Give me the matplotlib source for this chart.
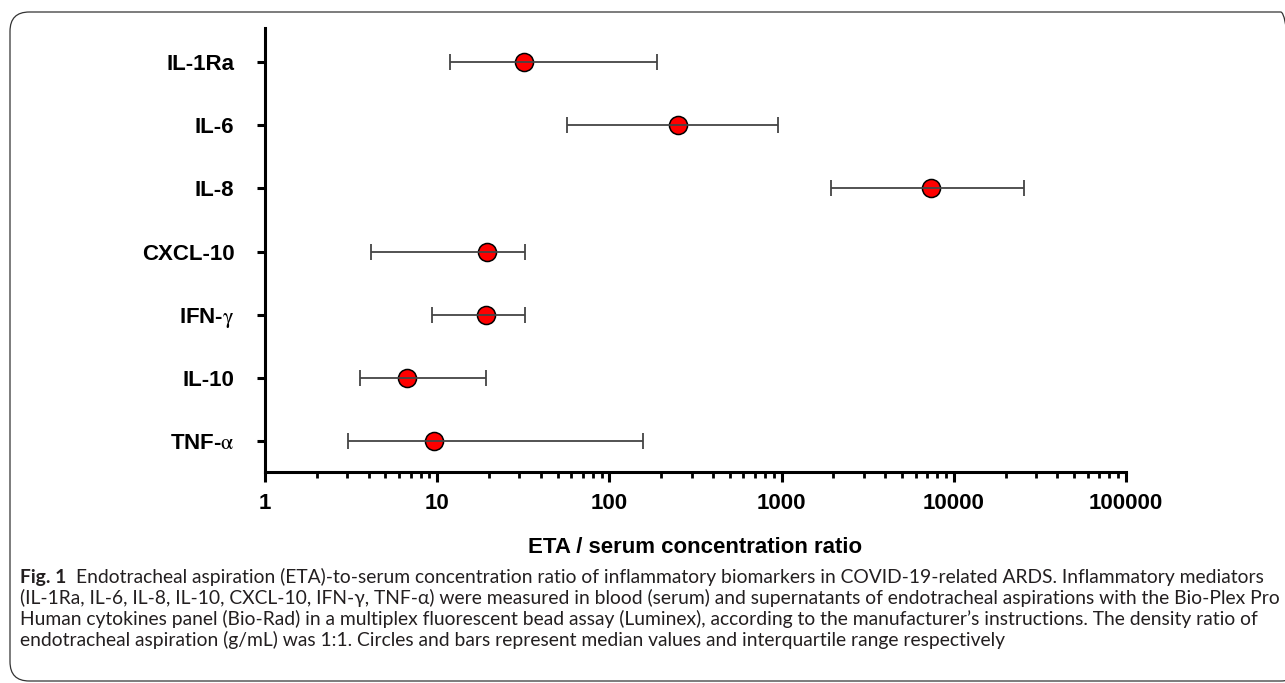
import matplotlib
matplotlib.use("Agg")
from matplotlib import pyplot as plt
from matplotlib.patches import FancyBboxPatch
from matplotlib.ticker import LogLocator, FixedFormatter, NullFormatter

# data (median, 25th pct, 75th pct)
markers = ['IL-1Ra', 'IL-6', 'IL-8', 'CXCL-10', r'IFN-$\mathrm{\gamma}$', 'IL-10', r'TNF-$\mathrm{\alpha}$']
medians = [31.9, 249, 7375, 19.5, 19.2, 6.7, 9.6]
q1 = [11.9, 56.9, 1936, 4.13, 9.33, 3.58, 3.02]
q3 = [190, 953, 25580, 32.4, 32.4, 19.2, 156]
xticks = [1, 10, 100, 1000, 10000, 100000]
xtick_labels = ['1', '10', '100', '1000', '10000', '100000']

caption_lines = [
    "Endotracheal aspiration (ETA)-to-serum concentration ratio of inflammatory biomarkers in COVID-19-related ARDS. Inflammatory mediators",
    "(IL-1Ra, IL-6, IL-8, IL-10, CXCL-10, IFN-\u03b3, TNF-\u03b1) were measured in blood (serum) and supernatants of endotracheal aspirations with the Bio-Plex Pro",
    "Human cytokines panel (Bio-Rad) in a multiplex fluorescent bead assay (Luminex), according to the manufacturer\u2019s instructions. The density ratio of",
    "endotracheal aspiration (g/mL) was 1:1. Circles and bars represent median values and interquartile range respectively",
]

plt.rcParams['font.family'] = ['Liberation Sans', 'DejaVu Sans']
plt.rcParams['mathtext.fontset'] = 'stix'

W, H = 1285, 683
fig = plt.figure(figsize=(W / 100, H / 100), dpi=100)
ax = fig.add_axes([265 / W, 1 - 472 / H, (1126 - 265) / W, (472 - 28) / H])

n = len(markers)
ypos = list(range(n - 1, -1, -1))
lo_err = [m - a for m, a in zip(medians, q1)]
hi_err = [b - m for m, b in zip(medians, q3)]

ax.plot(medians, ypos, 'o', ms=13, mfc='#ff0000', mec='black', mew=1.1, zorder=2)
ax.errorbar(medians, ypos, xerr=[lo_err, hi_err], fmt='none', ecolor='#444444',
            elinewidth=1.3, capsize=6, capthick=1.3, zorder=3)

ax.set_xscale('log')
ax.set_xlim(1, 100000)
ax.set_ylim(-0.49, n - 1 + 0.54)
ax.set_xticks(xticks)
ax.xaxis.set_major_formatter(FixedFormatter(xtick_labels))
ax.xaxis.set_minor_locator(LogLocator(base=10, subs=range(2, 10)))
ax.xaxis.set_minor_formatter(NullFormatter())
ax.set_yticks(ypos)
ax.set_yticklabels(markers, fontsize=16, fontweight='bold')
for lab in ax.get_xticklabels():
    lab.set_fontsize(16)
    lab.set_fontweight('bold')

for side in ['top', 'right']:
    ax.spines[side].set_visible(False)
for side in ['left', 'bottom']:
    ax.spines[side].set_linewidth(2.2)
ax.tick_params(axis='y', which='major', length=6, width=2.2, pad=16)
ax.tick_params(axis='x', which='major', length=7, width=2.2, pad=8)
ax.tick_params(axis='x', which='minor', length=4, width=2.0)
ax.set_xlabel('ETA / serum concentration ratio', fontsize=16, fontweight='bold', labelpad=17)

# frame around figure and caption
frame = FancyBboxPatch((10 / W, 1 - 681 / H), (1300 - 10) / W, (681 - 12) / H,
                       boxstyle='round,pad=0,rounding_size=0.015', transform=fig.transFigure,
                       fill=False, edgecolor='#333333', linewidth=0.9, mutation_aspect=W / H)
fig.patches.append(frame)

# caption
cap_font = ['Lato', 'DejaVu Sans']
cap_size = 12.2
cap_color = '#231f20'
y0 = 577
fig.canvas.draw()
renderer = fig.canvas.get_renderer()
t = fig.text(20 / W, 1 - y0 / H, 'Fig. 1', fontsize=cap_size, fontweight='bold',
             family=cap_font, color=cap_color, va='center')
bb = t.get_window_extent(renderer)
x1 = bb.x1 + 10
t1 = fig.text(x1 / W, 1 - y0 / H, caption_lines[0], fontsize=cap_size,
              family=cap_font, color=cap_color, va='center')
# fit first line to the reference width
w = t1.get_window_extent(renderer).width
scale = (1262 - x1) / w
cap_size = cap_size * scale
t.set_fontsize(cap_size)
bb = t.get_window_extent(renderer)
t1.set_x((bb.x1 + 10) / W)
t1.set_fontsize(cap_size)
for i, line in enumerate(caption_lines[1:]):
    fig.text(20 / W, 1 - (y0 + 21 * (i + 1)) / H, line, fontsize=cap_size,
             family=cap_font, color=cap_color, va='center')

fig.savefig('out.png', dpi=100)
